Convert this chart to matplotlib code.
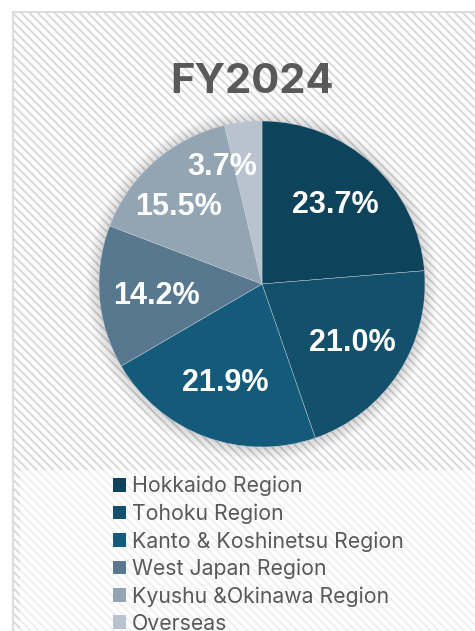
import matplotlib
matplotlib.use("Agg")
import matplotlib.pyplot as plt
import numpy as np
from matplotlib.patches import Rectangle, Circle

# data
regions = ["Hokkaido Region", "Tohoku Region", "Kanto & Koshinetsu Region",
           "West Japan Region", "Kyushu &Okinawa Region", "Overseas"]
shares = [23.7, 21.0, 21.9, 14.2, 15.5, 3.7]
colors = ["#0E435C", "#12506C", "#145A7B", "#58788F", "#93A4B3", "#B8C3CF"]
title = "FY2024"

W, H = 475, 631
plt.rcParams["hatch.linewidth"] = 1.4
plt.rcParams["hatch.color"] = "#F3F3F3"

fig = plt.figure(figsize=(W / 100, H / 100), dpi=100)
ax = fig.add_axes([0, 0, 1, 1])

# chart frame with striped background
ax.add_patch(Rectangle((12.5, -20), W, H - 11.5 + 20, facecolor="white",
                       edgecolor="#D9D9D9", linewidth=1.3, hatch="\\\\\\\\", zorder=0))
# legend area is a bit lighter
ax.add_patch(Rectangle((20, -20), W, H - 470 + 20, facecolor="white",
                       edgecolor="none", alpha=0.6, zorder=0.5))

cx, cy, r = 262, H - 284, 163

# soft shadow around the pie
for i in range(12):
    ax.add_patch(Circle((cx, cy - 1), r + 13 - i * 1.1, facecolor="#000000",
                        alpha=0.01, edgecolor="none", zorder=1))

wedges, _ = ax.pie(shares, colors=colors, startangle=90, counterclock=False,
                   center=(cx, cy), radius=r, frame=True,
                   wedgeprops=dict(edgecolor="#C8D2DA", linewidth=0.3, zorder=2))
ax.set_xlim(0, W)
ax.set_ylim(0, H)
ax.axis("off")

# data labels
label_dist = [0.66, 0.66, 0.65, 0.65, 0.70, 0.76]
label_shift = [0, 0, 0, 2, 6, 12]
for w, v, d, s in zip(wedges, shares, label_dist, label_shift):
    ang = np.deg2rad((w.theta1 + w.theta2) / 2 + s)
    ax.text(cx + d * r * np.cos(ang), cy + d * r * np.sin(ang), f"{v:.1f}%",
            ha="center", va="center", color="white", fontsize=22,
            fontweight="bold", family="Liberation Sans", zorder=3)

ax.text(252, H - 93, title, ha="center", va="baseline", fontsize=30,
        fontweight="bold", color="#595959", family="Inter", zorder=3)

leg = ax.legend(wedges, regions, loc="upper left",
                bbox_to_anchor=(113 / W, 1 - 476 / H), bbox_transform=fig.transFigure,
                frameon=False, borderpad=0, borderaxespad=0,
                handlelength=0.6, handleheight=0.6, handletextpad=0.3,
                labelspacing=0.33, prop=dict(family="Inter", size=15.3))
for t in leg.get_texts():
    t.set_color("#595959")
for h in leg.legend_handles:
    h.set_linewidth(0)

fig.savefig("out.png", dpi=100, facecolor="white")
